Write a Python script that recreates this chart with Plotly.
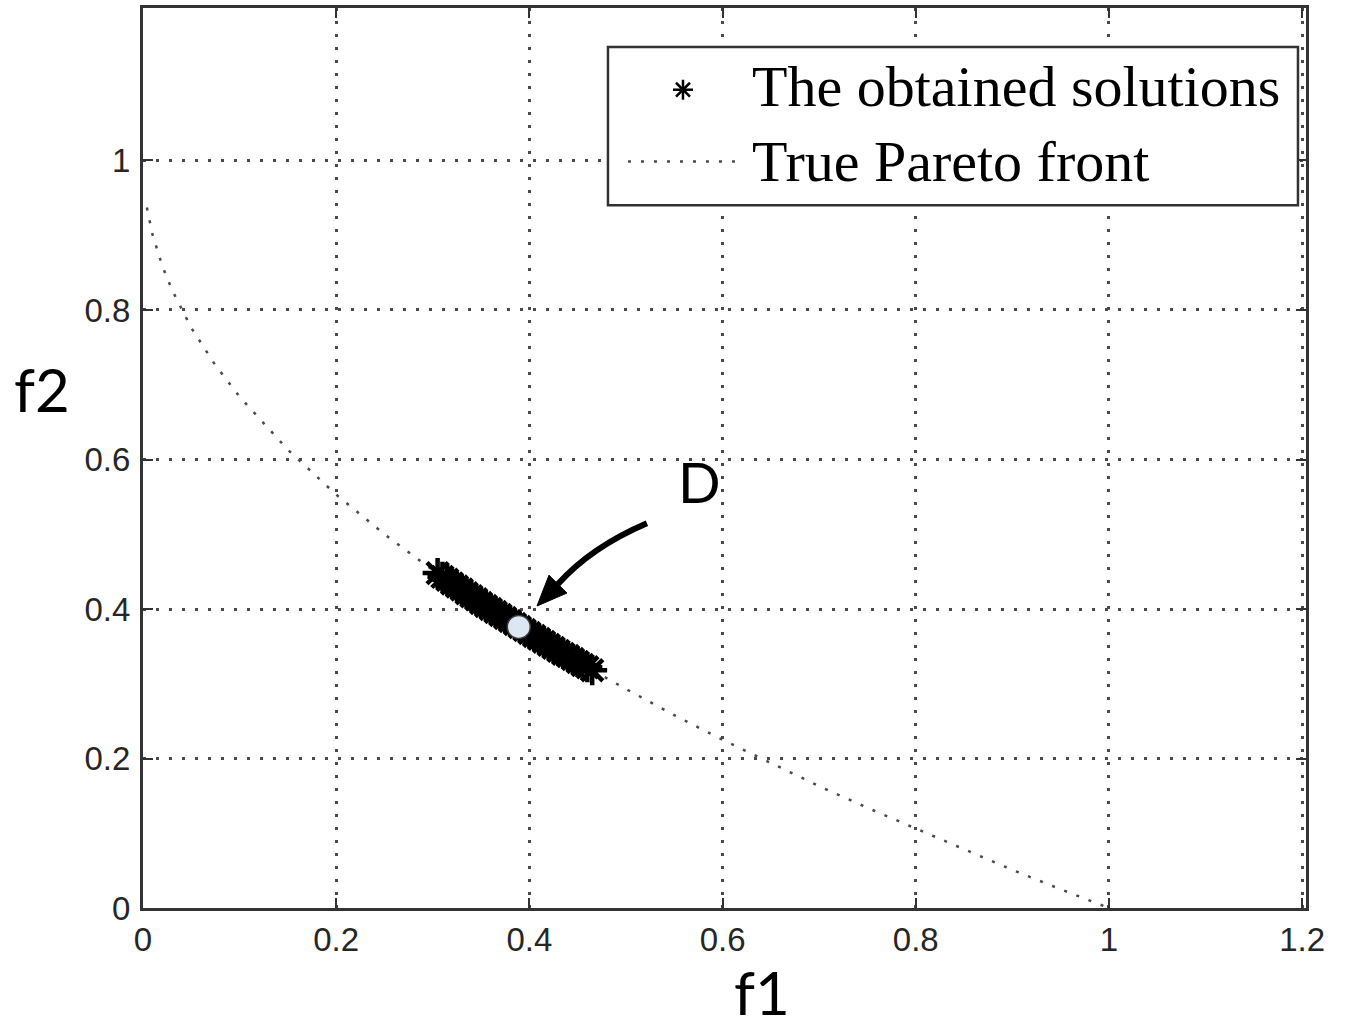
import plotly.graph_objects as go

# True Pareto front (f1, f2)
front_f1 = [0.004, 0.01, 0.02, 0.03, 0.05, 0.075, 0.1, 0.15, 0.2, 0.25, 0.3, 0.35,
            0.4, 0.45, 0.5, 0.55, 0.6, 0.65, 0.7, 0.75, 0.8, 0.85, 0.9, 0.95, 1.0]
front_f2 = [0.937, 0.900, 0.859, 0.827, 0.776, 0.726, 0.684, 0.613, 0.553, 0.500, 0.452, 0.408,
            0.368, 0.329, 0.293, 0.258, 0.225, 0.194, 0.163, 0.134, 0.106, 0.078, 0.051, 0.025, 0.0]

# Obtained solutions
sol_f1 = [0.305, 0.310, 0.315, 0.320, 0.325, 0.330, 0.335, 0.340, 0.345, 0.350, 0.355,
          0.360, 0.365, 0.370, 0.375, 0.380, 0.385, 0.390, 0.395, 0.400, 0.405, 0.410,
          0.415, 0.420, 0.425, 0.430, 0.435, 0.440, 0.445, 0.450, 0.455, 0.460, 0.465]
sol_f2 = [0.448, 0.443, 0.439, 0.434, 0.430, 0.426, 0.421, 0.417, 0.413, 0.408, 0.404,
          0.400, 0.396, 0.392, 0.388, 0.384, 0.380, 0.376, 0.372, 0.368, 0.364, 0.360,
          0.356, 0.352, 0.348, 0.344, 0.340, 0.337, 0.333, 0.329, 0.325, 0.322, 0.318]

# Highlighted solution D
d_f1 = [0.389]
d_f2 = [0.376]

y_tick_vals = [0, 0.2, 0.4, 0.6, 0.8, 1.0]
x_tick_vals = [0, 0.2, 0.4, 0.6, 0.8, 1.0, 1.2]
x_tick_text = ["0", "0.2", "0.4", "0.6", "0.8", "1", "1.2"]
y_tick_text = ["0", "0.2", "0.4", "0.6", "0.8", "1"]

legend_labels = ["The obtained solutions", "True Pareto front"]

AX = "#333333"
GRID = "#4a4a4a"
DOTS = "3px,10px"

fig = go.Figure()

fig.add_trace(go.Scatter(
    x=front_f1, y=front_f2, mode="lines",
    line=dict(color=GRID, width=2.5, dash=DOTS),
    showlegend=False, hoverinfo="skip",
))

fig.add_trace(go.Scatter(
    x=sol_f1, y=sol_f2, mode="markers",
    marker=dict(symbol="asterisk-open", size=25, color="black",
                line=dict(color="black", width=4.5)),
    showlegend=False,
))

fig.add_trace(go.Scatter(
    x=d_f1, y=d_f2, mode="markers",
    marker=dict(symbol="circle", size=23, color="#dde7f3",
                line=dict(color="#3a3a3a", width=1.5)),
    showlegend=False,
))

axis_common = dict(
    showline=True, linecolor=AX, linewidth=3, mirror="ticks",
    ticks="inside", ticklen=10, tickwidth=2, tickcolor=AX,
    showgrid=True, gridcolor=GRID, gridwidth=2.5, griddash=DOTS,
    zeroline=False,
    tickfont=dict(family="Liberation Sans, Arial, sans-serif", size=33, color="#262626"),
)

fig.update_layout(
    width=1350, height=1030,
    margin=dict(l=143, r=44, t=5, b=122),
    paper_bgcolor="white", plot_bgcolor="white",
    xaxis=dict(range=[0, 1.204], tickvals=x_tick_vals, ticktext=x_tick_text,
               ticklabelstandoff=0, **axis_common),
    yaxis=dict(range=[0, 1.204], tickvals=y_tick_vals, ticktext=y_tick_text,
               ticklabelstandoff=3, **axis_common),
    showlegend=False,
)

# legend box geometry (paper units) and key positions
LX0, LX1, LY0, LY1 = 0.3998, 0.9931, 0.7807, 0.9568
KEY_X, KEY_Y = 0.4643, 0.9092
ARM_X, ARM_Y = 10 / 1163, 10 / 903
DIAG_X, DIAG_Y = 7 / 1163, 7 / 903

shapes = [
    # curved pointer to D
    dict(type="path", xref="x", yref="y",
         path="M 0.5217,0.5147 Q 0.4638,0.4827 0.4296,0.4333",
         line=dict(color="black", width=6)),
    dict(type="path", xref="x", yref="y",
         path="M 0.4079,0.4040 L 0.4389,0.4213 L 0.4203,0.4453 Z",
         fillcolor="black", line=dict(color="black", width=1)),
    # legend box (covers the grid)
    dict(type="rect", xref="paper", yref="paper",
         x0=LX0, x1=LX1, y0=LY0, y1=LY1,
         fillcolor="white", line=dict(color=AX, width=2.5), layer="above"),
    # legend key for the Pareto front
    dict(type="line", xref="paper", yref="paper",
         x0=0.417, x1=0.5107, y0=0.8295, y1=0.8295,
         line=dict(color=GRID, width=2.5, dash=DOTS), layer="above"),
]
# legend key for the solutions: an eight-armed asterisk
for dx, dy in [(ARM_X, 0), (0, ARM_Y), (DIAG_X, DIAG_Y), (DIAG_X, -DIAG_Y)]:
    shapes.append(dict(type="line", xref="paper", yref="paper",
                       x0=KEY_X - dx, x1=KEY_X + dx, y0=KEY_Y - dy, y1=KEY_Y + dy,
                       line=dict(color="black", width=2.5), layer="above"))
fig.update_layout(shapes=shapes)

serif = dict(family="Liberation Serif, Times New Roman, serif", size=58, color="black")
sans_big = dict(family="Lato, Open Sans, sans-serif", size=60, color="black")

fig.add_annotation(x=0.5219, y=0.913, xref="paper", yref="paper",
                   text=legend_labels[0], showarrow=False,
                   xanchor="left", yanchor="middle", font=serif)
fig.add_annotation(x=0.5219, y=0.829, xref="paper", yref="paper",
                   text=legend_labels[1], showarrow=False,
                   xanchor="left", yanchor="middle", font=serif)

fig.add_annotation(x=0.5766, y=0.571, xref="x", yref="y", text="D",
                   showarrow=False, xanchor="center", yanchor="middle",
                   font=dict(family="Lato, Open Sans, sans-serif", size=56, color="black"))
fig.add_annotation(x=-0.0868, y=0.577, xref="paper", yref="paper", text="f2",
                   showarrow=False, xanchor="center", yanchor="middle", font=sans_big)
fig.add_annotation(x=0.532, y=-0.0935, xref="paper", yref="paper", text="f1",
                   showarrow=False, xanchor="center", yanchor="middle", font=sans_big)

fig.write_html("out.html")
